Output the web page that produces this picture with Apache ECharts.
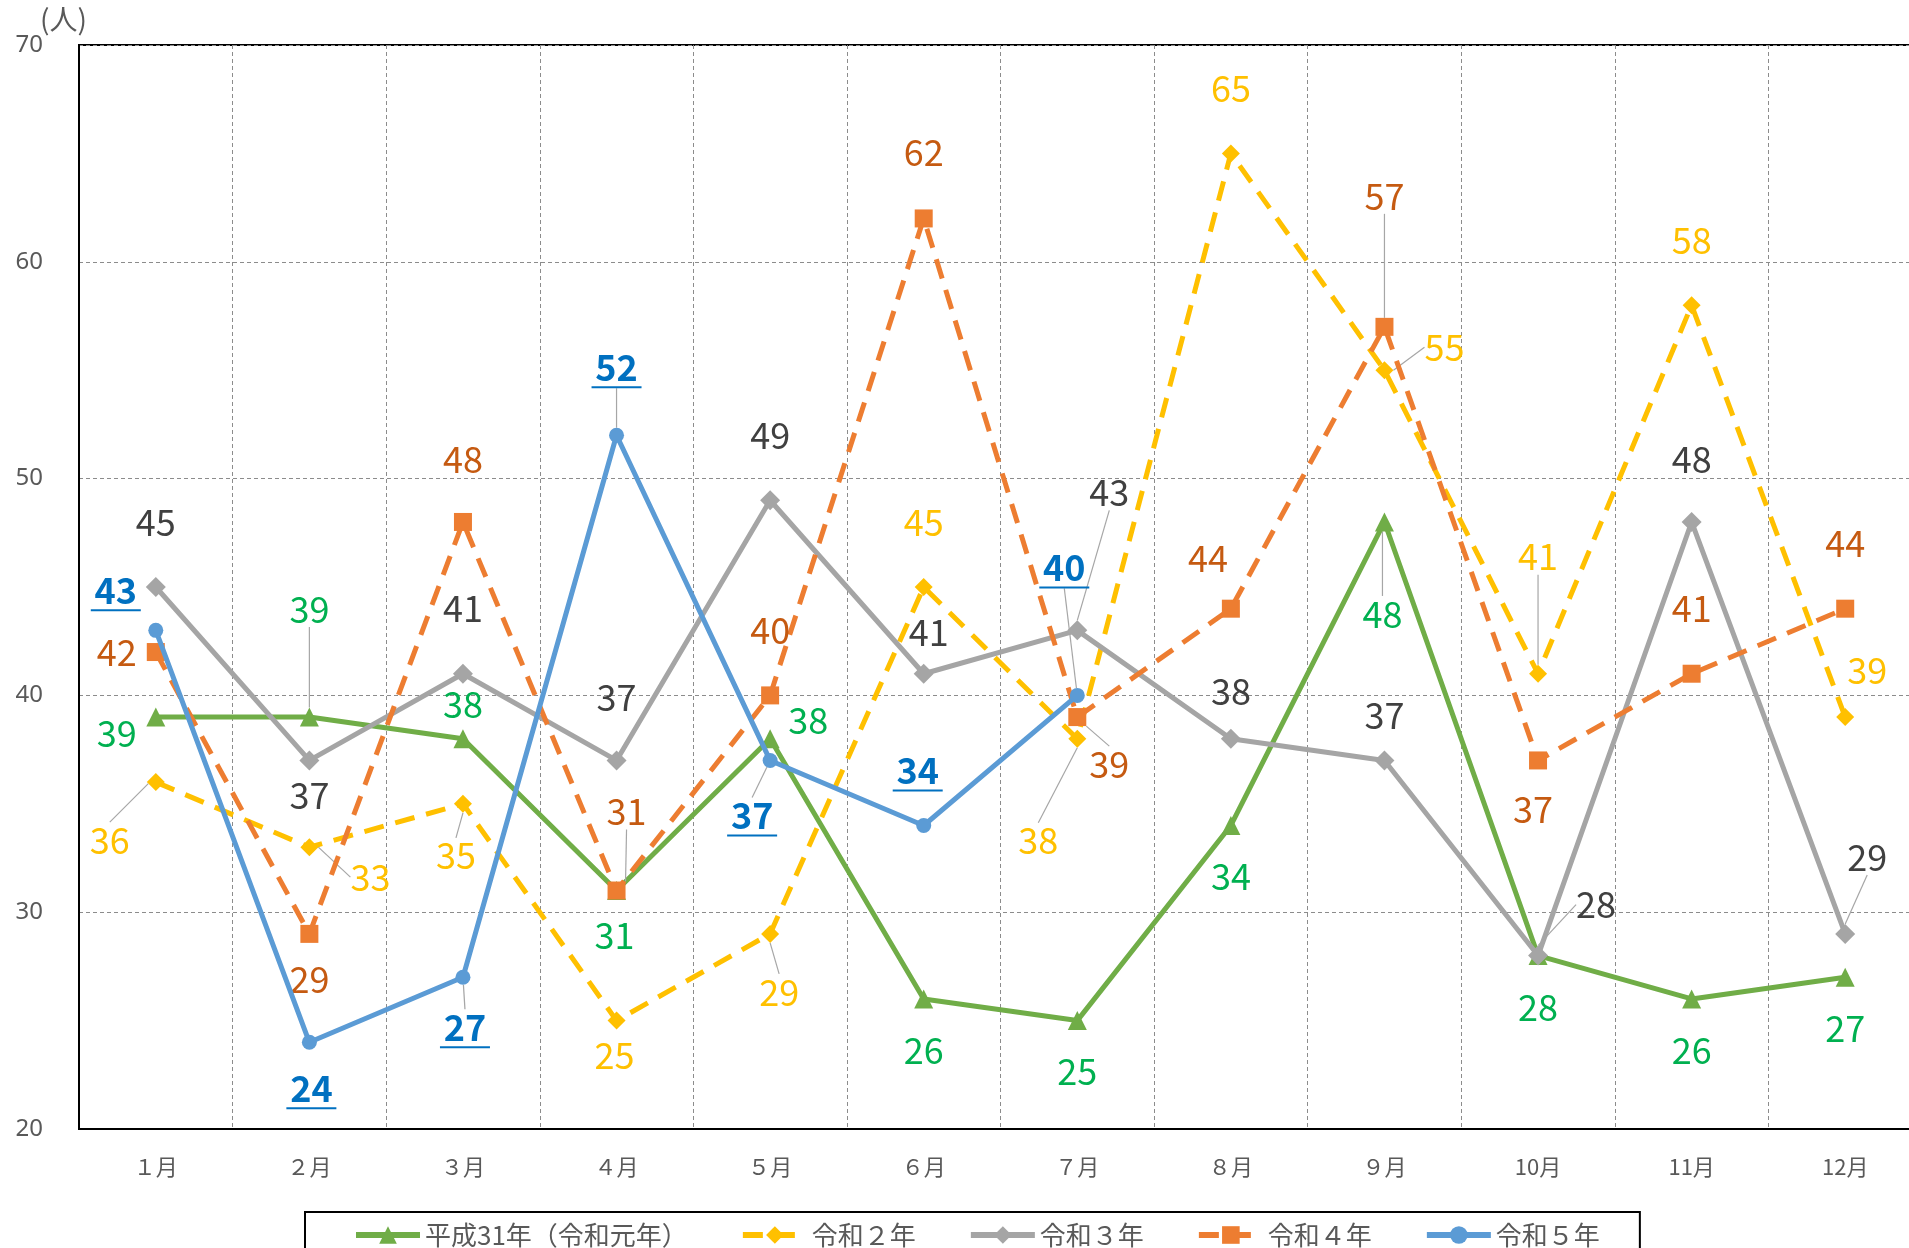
<!DOCTYPE html>
<html>
<head>
<meta charset="utf-8">
<script src="https://cdn.jsdelivr.net/npm/echarts@6/dist/echarts.min.js"></script>
<style>
  html, body { margin: 0; padding: 0; background: #fff; overflow: hidden; }
  #chart { width: 1930px; height: 1248px; }
</style>
</head>
<body>
<div id="chart"></div>
<script>
// Monthly counts (people) by fiscal year
const months = ['１月', '２月', '３月', '４月', '５月', '６月', '７月', '８月', '９月', '10月', '11月', '12月'];
const seriesNames = ['平成31年（令和元年）', '令和２年', '令和３年', '令和４年', '令和５年'];
const valuesH31 = [39, 39, 38, 31, 38, 26, 25, 34, 48, 28, 26, 27];
const valuesR2  = [36, 33, 35, 25, 29, 45, 38, 65, 55, 41, 58, 39];
const valuesR3  = [45, 37, 41, 37, 49, 41, 43, 38, 37, 28, 48, 29];
const valuesR4  = [42, 29, 48, 31, 40, 62, 39, 44, 57, 37, 41, 44];
const valuesR5  = [43, 24, 27, 52, 37, 34, 40];
const yMin = 20, yMax = 70, yStep = 10;
const unitLabel = '(人)';

// Label placement: offset of each value label's centre from its point (px)
const labelOffsets = [
  [[-39, 16], [0, -108], [0, -34], [-2, 45], [38, -18], [0, 51], [0, 51], [0, 51], [-2, 92], [0, 52], [0, 51], [0, 51]],
  [[-46, 58], [61, 30], [-7, 52], [-2, 35], [9, 58], [0, -65], [-39, 102], [0, -65], [60, -23], [0, -117], [0, -65], [22, -47]],
  [[0, -65], [0, 35], [0, -65], [0, -63], [0, -65], [5, -41], [32, -138], [0, -47], [0, -45], [58, -51], [0, -63], [22, -77]],
  [[-39, 0], [0, 45], [0, -63], [10, -79], [0, -65], [0, -66], [32, 47], [-23, -50], [0, -131], [-5, 49], [0, -65], [0, -65]],
  [[-40, -39], [2, 47], [2, 51], [0, -67], [-18, 56], [-6, -54], [-13, -127]]
];
// Points whose label gets a thin leader line
const leaderIdx = [
  [1, 8],
  [0, 1, 2, 4, 6, 8, 9],
  [6, 9, 11],
  [3, 6, 8],
  [2, 3, 4, 6]
];

const fontJP = '"Noto Sans CJK JP", "Noto Sans", sans-serif';

const styles = [
  { color: '#70AD47', symbol: 'triangle', size: 19, dash: 'solid', labelColor: '#00B050' },
  { color: '#FFC000', symbol: 'diamond', size: 18, dash: [20, 12], labelColor: '#FFC000' },
  { color: '#A5A5A5', symbol: 'diamond', size: 20, dash: 'solid', labelColor: '#404040' },
  { color: '#ED7D31', symbol: 'rect', size: 18, dash: [20, 12], labelColor: '#C55A11' },
  { color: '#5B9BD5', symbol: 'circle', size: 15, dash: 'solid', labelColor: '#0070C0' }
];
const allValues = [valuesH31, valuesR2, valuesR3, valuesR4, valuesR5];

function makeSeries(si) {
  const st = styles[si];
  const isLatest = si === 4;
  const label = {
    show: true,
    position: 'inside',
    align: 'center',
    fontFamily: fontJP,
    fontSize: 36,
    color: st.labelColor
  };
  if (isLatest) {
    // latest year: bold values with an underline bar beneath
    label.formatter = '{v|{c}}\n{u| }';
    label.rich = {
      v: { fontFamily: fontJP, fontSize: 36, fontWeight: 'bold', color: st.labelColor, lineHeight: 38 },
      u: { fontSize: 2, width: 50, height: 2, lineHeight: 2, backgroundColor: st.labelColor }
    };
  }
  return {
    name: seriesNames[si],
    type: 'line',
    z: 2 + si,
    symbol: st.symbol,
    symbolSize: st.size,
    showAllSymbol: true,
    itemStyle: { color: st.color },
    lineStyle: { color: st.color, width: 5, type: st.dash, cap: 'butt' },
    label: label,
    labelLine: { show: false, lineStyle: { color: '#A6A6A6', width: 1.2 } },
    emphasis: { disabled: true },
    animation: false,
    data: allValues[si].map(function (v, i) {
      return { value: v, labelLine: { show: leaderIdx[si].indexOf(i) >= 0 } };
    }),
    labelLayout: function (p) {
      const off = labelOffsets[p.seriesIndex][p.dataIndex];
      const cx = p.rect.x + p.rect.width / 2;
      const cy = p.rect.y + p.rect.height / 2;
      const lx = cx + off[0], ly = cy + off[1];
      const res = { x: lx, y: ly, align: 'center', verticalAlign: 'middle' };
      if (leaderIdx[p.seriesIndex].indexOf(p.dataIndex) >= 0) {
        const hw = p.labelRect.width / 2 + 3, hh = p.labelRect.height / 2 + 1;
        const dx = off[0], dy = off[1];
        const t = Math.min(dx !== 0 ? hw / Math.abs(dx) : 1e9, dy !== 0 ? hh / Math.abs(dy) : 1e9);
        const ex = lx - dx * t, ey = ly - dy * t;
        res.labelLinePoints = [[cx, cy], [(cx + ex) / 2, (cy + ey) / 2], [ex, ey]];
      }
      return res;
    }
  };
}

const chart = echarts.init(document.getElementById('chart'), null, { renderer: 'canvas' });
chart.setOption({
  backgroundColor: '#fff',
  animation: false,
  textStyle: { fontFamily: fontJP },
  grid: {
    left: 79, top: 45, width: 1843, height: 1084,
    show: true, borderColor: '#000', borderWidth: 2, backgroundColor: 'transparent'
  },
  graphic: [{
    type: 'text', left: 40, top: 5,
    style: { text: unitLabel, font: '28px ' + fontJP, fill: '#595959' }
  }],
  legend: {
    left: 305, top: 1212,
    padding: [10, 40, 20, 48],
    borderColor: '#000', borderWidth: 2,
    itemWidth: 64, itemHeight: 22, itemGap: 52,
    lineStyle: { width: 6 },
    textStyle: { fontFamily: fontJP, fontSize: 26, color: '#595959' },
    data: seriesNames
  },
  xAxis: {
    type: 'category',
    data: months,
    boundaryGap: true,
    axisLine: { show: true, lineStyle: { color: '#000', width: 2 } },
    axisTick: { show: false },
    axisLabel: { color: '#595959', fontSize: 22, margin: 27, fontFamily: fontJP },
    splitLine: { show: true, lineStyle: { color: '#8C8C8C', width: 1, type: [4, 3] } }
  },
  yAxis: {
    type: 'value',
    min: yMin, max: yMax, interval: yStep,
    axisLine: { show: true, lineStyle: { color: '#000', width: 2 } },
    axisTick: { show: false },
    axisLabel: { color: '#595959', fontSize: 24, margin: 36, fontFamily: '"Noto Sans", sans-serif' },
    splitLine: { show: true, lineStyle: { color: '#8C8C8C', width: 1, type: [4, 3] } }
  },
  series: [0, 1, 2, 3, 4].map(makeSeries)
});
</script>
</body>
</html>
